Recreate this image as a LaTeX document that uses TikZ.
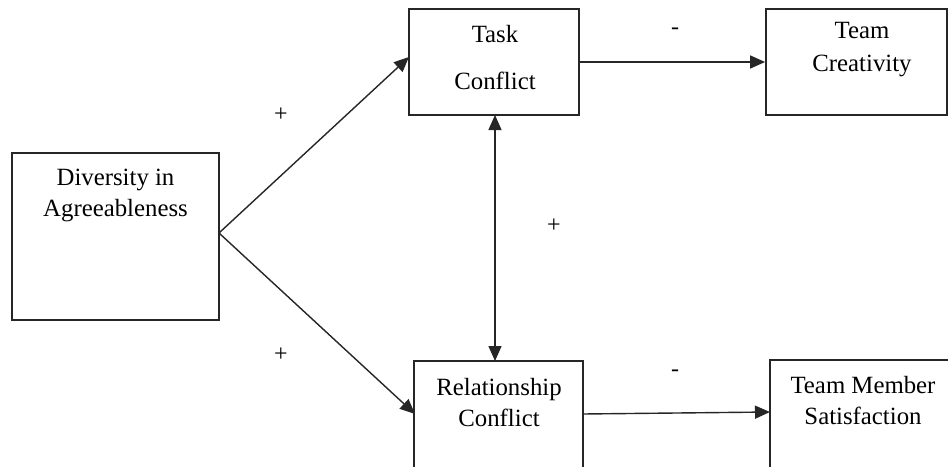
\documentclass[tikz,border=0pt]{standalone}
\usepackage{fontspec}
\setmainfont{Liberation Serif}
\usetikzlibrary{arrows.meta}
\tikzset{
  box/.style={draw=black!85, line width=0.9pt, rectangle, inner sep=0pt},
  txt/.style={align=center, inner sep=0pt, font=\fontsize{12.4}{15.5}\selectfont},
  sign/.style={inner sep=0pt, font=\fontsize{12}{14}\selectfont},
  arr/.style={draw=black!85, line width=0.7pt, -{Triangle[length=7.5pt,width=6.5pt]}},
  darr/.style={draw=black!85, line width=0.7pt, {Triangle[length=7.5pt,width=6.5pt]}-{Triangle[length=7.5pt,width=6.5pt]}}
}
\begin{document}
\begin{tikzpicture}[x=0.5pt,y=-0.5pt]
\useasboundingbox (0,0) rectangle (948,466);
\clip (0,0) rectangle (948,466);
% boxes
\node[box, minimum width=103.5pt, minimum height=83.5pt] (div) at (115.5,236.5) {};
\node[box, minimum width=85pt, minimum height=53pt] (task) at (494,62) {};
\node[box, minimum width=84.5pt, minimum height=64.5pt] (rel) at (498.5,425.5) {};
\node[box, minimum width=90.5pt, minimum height=53pt] (tc) at (856.5,62) {};
\node[box, minimum width=95pt, minimum height=65pt] (tms) at (865,425) {};
% texts
\node[txt] (divt) at (115.5,195) {Diversity in\\Agreeableness};
\node[txt, font=\fontsize{12.4}{23.5}\selectfont] (taskt) at (495,58) {Task\\Conflict};
\node[txt] (relt) at (499,403) {Relationship\\Conflict};
\node[txt, font=\fontsize{12.4}{16.5}\selectfont] (tct) at (862,50) {Team\\Creativity};
\node[txt] (tmst) at (863,401) {Team Member\\Satisfaction};
% coordinates
\coordinate (j) at (219,233);
\coordinate (tin) at (409,57);
\coordinate (rin) at (415,414);
\coordinate (rout) at (583,414);
\coordinate (tmsin) at (770,412);
\coordinate (ts) at (495,115);
\coordinate (rn) at (495,361);
% connectors
\draw[arr] (j) -- (tin);
\draw[arr] (j) -- (rin);
\draw[darr] (ts) -- (rn);
\draw[arr] (task.east) -- (tc.west);
\draw[arr] (rout) -- (tmsin);
% signs
\node[sign] (p1) at (281,115) {+};
\node[sign] (p2) at (281,355) {+};
\node[sign] (p3) at (554,226) {+};
\node[sign] (m1) at (675,31) {-};
\node[sign] (m2) at (675,373) {-};
\end{tikzpicture}
\end{document}
